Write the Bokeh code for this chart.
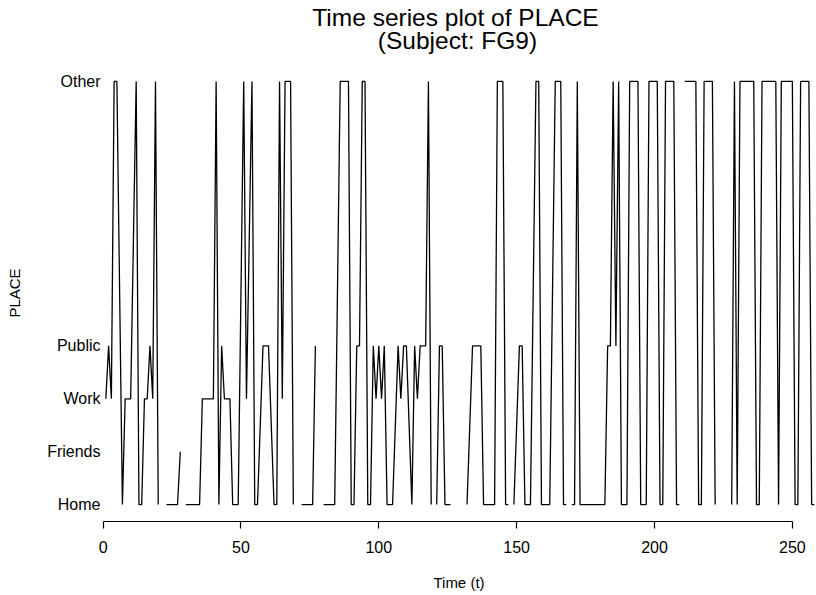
from bokeh.plotting import figure
from bokeh.models import Range1d, FixedTicker
from bokeh.layouts import column
from bokeh.core.properties import value
from bokeh.embed import file_html
from bokeh.resources import INLINE
import numpy as np

# ---- data ----
level_names = ["Home", "Friends", "Work", "Public", "Other"]
level_codes = [0, 1, 2, 3, 8]

time = [1, 2, 3, 4, 5, 7, 8, 9, 10, 12, 13, 14, 15, 16, 17, 18, 19, 20, 21,
        23, 24, 25, 26, 27, 28, 29, 30, 31, 32, 33, 34, 35, 36, 37, 38, 39, 40,
        41, 42, 43, 44, 45, 46, 47, 48, 49, 51, 52, 54, 55, 56, 58, 59, 60, 62,
        63, 64, 65, 66, 67, 68, 69, 70, 72, 73, 74, 75, 76, 77, 78, 80, 81, 82,
        83, 84, 86, 87, 88, 89, 90, 91, 92, 93, 94, 95, 96, 97, 98, 99, 100,
        101, 102, 103, 104, 105, 107, 108, 109, 110, 112, 113, 114, 115, 116,
        117, 118, 119, 120, 121, 122, 123, 124, 125, 126, 127, 129, 130, 132,
        134, 135, 136, 137, 138, 139, 140, 141, 142, 143, 144, 145, 146, 147,
        148, 149, 151, 152, 153, 154, 155, 157, 158, 159, 160, 161, 162, 164,
        165, 166, 167, 168, 169, 170, 171, 172, 173, 174, 175, 176, 177, 178,
        179, 180, 181, 182, 183, 184, 185, 186, 187, 188, 189, 190, 191, 192,
        193, 194, 195, 196, 197, 198, 199, 200, 201, 202, 203, 204, 205, 206,
        207, 208, 209, 210, 211, 212, 213, 214, 215, 216, 217, 218, 219, 220,
        221, 222, 223, 228, 229, 230, 231, 232, 233, 234, 235, 236, 237, 238,
        239, 240, 241, 242, 243, 244, 245, 246, 247, 248, 249, 250, 251, 252,
        253, 254, 255, 256, 257, 258]

place = ["Work", "Public", "Work", "Other", "Other", "Home", "Work", "Work", "Work",
         "Other", "Home", "Home", "Work", "Work", "Public", "Work", "Other", "Home", None,
         "Home", "Home", "Home", "Home", "Home", "Friends", None, "Home", "Home", "Home",
         "Home", "Home", "Home", "Work", "Work", "Work", "Work", "Work",
         "Other", "Home", "Public", "Work", "Work", "Work", "Home", "Home", "Home",
         "Other", "Work", "Other", "Home", "Home", "Public", "Public", "Public", "Home",
         "Home", "Other", "Work", "Other", "Other", "Other", "Home", None, "Home", "Home",
         "Home", "Home", "Home", "Public", None, "Home", "Home", "Home",
         "Home", "Home", "Other", "Other", "Other", "Other", "Home", "Home", "Public",
         "Public", "Other", "Other", "Home", "Home", "Public", "Work", "Public",
         "Work", "Public", "Home", "Home", "Home", "Public", "Work", "Public", "Public",
         "Home", "Public", "Work", "Public", "Public",
         "Public", "Other", "Home", None, "Home", "Public", "Public", "Home", "Home",
         "Home", None, "Home", None, "Home",
         "Public", "Public", "Public", "Public", "Home", "Home", "Home", "Home", "Home",
         "Other", "Other", "Other", "Home", "Home",
         None, "Home", "Public", "Public", "Home", "Home", "Home", "Other", "Other",
         "Home", "Home", "Home", "Home", "Other",
         "Other", "Other", "Home", "Home", None, "Home", "Home", "Other", "Home", "Home",
         "Home", "Home", "Home", "Home",
         "Home", "Home", "Home", "Home", "Public", "Public", "Other", "Public", "Other",
         "Home", "Home", "Home", "Other", "Other",
         "Other", "Other", "Home", "Home", "Home", "Other", "Other", "Other", "Other",
         "Home", "Home", "Other", "Other", "Other",
         "Other", "Home", "Home", None, "Other", "Other", "Other", "Other", "Other",
         "Home", "Home", "Other", "Other", "Other",
         "Other", "Home", None, "Home", "Other", "Home", "Other", "Other", "Other",
         "Other", "Other", "Other", "Home", "Home",
         "Other", "Other", "Other", "Other", "Other", "Other", "Home", "Other", "Other",
         "Other", "Other", "Other", "Home", "Home",
         "Other", "Other", "Other", "Other", "Home", "Home"]

x_ticks = [0, 50, 100, 150, 200, 250]

title_lines = ["Time series plot of PLACE", "(Subject: FG9)"]

# ---- build ----
code_of = dict(zip(level_names, level_codes))
n = min(len(time), len(place))
xs = np.array(time[:n], dtype=float)
ys = np.array([code_of[v] if v is not None else np.nan for v in place[:n]], dtype=float)

FONT = "Liberation Sans"
LEFT = 101

# title strip: its frame spans page pixels LEFT..816 horizontally, 0..64 vertically
pt = figure(width=816, height=64, x_range=Range1d(LEFT, 816), y_range=Range1d(64, 0),
            x_axis_type=None, y_axis_type=None,
            output_backend="svg", toolbar_location=None,
            min_border_left=LEFT, min_border_right=0, min_border_top=0, min_border_bottom=0)
pt.outline_line_color = None
pt.grid.visible = False
pt.text(x=[455, 457], y=[17, 40], text=title_lines,
        text_font=value(FONT), text_font_size=value("24.5px"),
        text_align="center", text_baseline="middle", text_color="black")

# main plot
p = figure(width=816, height=531,
           x_range=Range1d(-0.58, 258.76), y_range=Range1d(-0.32, 8.32),
           output_backend="svg", toolbar_location=None,
           min_border_left=LEFT, min_border_right=0, min_border_top=0, min_border_bottom=74)
p.outline_line_color = None
p.grid.visible = False
p.background_fill_color = "white"
p.border_fill_color = "white"

p.line(xs, ys, line_color="black", line_width=1.3)

# x axis
xa = p.xaxis[0]
xa.ticker = FixedTicker(ticks=x_ticks)
xa.bounds = (x_ticks[0], x_ticks[-1])
xa.axis_line_color = "black"
xa.axis_line_width = 1.2
xa.major_tick_line_color = "black"
xa.major_tick_line_width = 1.2
xa.major_tick_out = 7
xa.major_tick_in = 0
xa.minor_tick_line_color = None
xa.major_label_text_font = FONT
xa.major_label_text_font_size = "16px"
xa.major_label_text_color = "black"
xa.major_label_standoff = 12
xa.axis_label = "Time (t)"
xa.axis_label_text_font = FONT
xa.axis_label_text_font_size = "15px"
xa.axis_label_text_font_style = "normal"
xa.axis_label_text_color = "black"
xa.axis_label_standoff = 18

# y axis
ya = p.yaxis[0]
ya.ticker = FixedTicker(ticks=level_codes)
ya.major_label_overrides = {c: nm for c, nm in zip(level_codes, level_names)}
ya.axis_line_color = None
ya.major_tick_line_color = None
ya.minor_tick_line_color = None
ya.major_tick_out = 0
ya.major_tick_in = 0
ya.major_label_standoff = 1
ya.major_label_text_font = FONT
ya.major_label_text_font_size = "16px"
ya.major_label_text_color = "black"
ya.axis_label = "PLACE"
ya.axis_label_text_font = FONT
ya.axis_label_text_font_size = "15px"
ya.axis_label_text_font_style = "normal"
ya.axis_label_text_color = "black"
ya.axis_label_standoff = 21

layout = column(pt, p, spacing=0)
open("out.html", "w").write(file_html(layout, INLINE))
